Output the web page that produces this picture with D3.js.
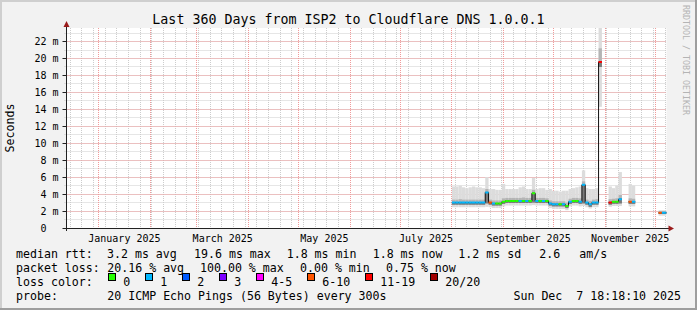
<!DOCTYPE html>
<html>
<head>
<meta charset="utf-8">
<script src="https://cdn.jsdelivr.net/npm/d3@7"></script>
<style>
  html, body { margin: 0; padding: 0; background: #f2f2f2; }
  svg { display: block; font-family: "DejaVu Sans Mono", monospace; }
  text { white-space: pre; }
</style>
</head>
<body>
<div id="chart"></div>
<script>
// ---- data ----
const title = 'Last 360 Days from ISP2 to Cloudflare DNS 1.0.0.1';
const endTime = new Date(Date.UTC(2025, 11, 7, 18, 18, 10));
const spanDays = 360;

// 2-day bins starting 2025-08-01, values in ms (null = no data)
const binStart = new Date(Date.UTC(2025, 7, 1));
const binDays = 2;
const median = [3.0, 3.0, 3.0, 3.0, 3.0, 3.0, 3.0, 3.0, 3.0, 3.0,
  4.2, 3.0, 2.9, 2.9, 2.9, 3.1, 3.2, 3.2, 3.2, 3.2,
  3.2, 3.2, 3.2, 3.2, 4.1, 3.2, 3.2, 3.2, 3.2, 2.9,
  2.8, 2.8, 2.8, 2.8, 2.6, 3.1, 3.2, 3.2, 3.1, 5.1,
  3.0, 2.8, 3.0, 3.0, 19.6, null, null, 3.0, 3.1, 3.1,
  3.4, null, null, 3.1, 3.1, null, null, null, null, null,
  null, null, 1.8, 1.8, 1.8];
const loss = [1, 1, 1, 1, 1, 1, 1, 1, 1, 1,
  1, 8, 1, 0, 0, 0, 0, 0, 0, 0,
  1, 0, 1, 0, 0, 1, 0, 1, 0, 1,
  1, 1, 0, 1, 0, 1, 0, 0, 1, 1,
  1, 1, 1, 1, 15, null, null, 15, 0, 0,
  1, null, null, 8, 1, null, null, null, null, null,
  null, null, 8, 1, 1];
const smokeLo = [2.45, 2.45, 2.45, 2.45, 2.45, 2.45, 2.45, 2.45, 2.45, 2.45,
  2.5, 2.45, 2.35, 2.35, 2.35, 2.55, 2.65, 2.65, 2.65, 2.65,
  2.65, 2.65, 2.65, 2.65, 2.7, 2.65, 2.65, 2.65, 2.65, 2.35,
  2.25, 2.25, 2.25, 2.25, 2.1, 2.55, 2.65, 2.65, 2.55, 2.6,
  2.45, 2.3, 2.45, 2.45, 14.3, null, null, 2.5, 2.6, 2.6,
  2.6, null, null, 2.55, 2.55, null, null, null, null, null,
  null, null, 1.45, 1.45, 1.45];
const smokeQ1 = [2.75, 2.75, 2.75, 2.75, 2.75, 2.75, 2.75, 2.75, 2.75, 2.75,
  2.9, 2.75, 2.65, 2.65, 2.65, 2.85, 2.95, 2.95, 2.95, 2.95,
  2.95, 2.95, 2.95, 2.95, 3.0, 2.95, 2.95, 2.95, 2.95, 2.65,
  2.55, 2.55, 2.55, 2.55, 2.35, 2.85, 2.95, 2.95, 2.85, 2.9,
  2.75, 2.5, 2.75, 2.75, 19.0, null, null, 2.75, 2.85, 2.85,
  2.9, null, null, 2.85, 2.85, null, null, null, null, null,
  null, null, 1.65, 1.65, 1.65];
const smokeQ3 = [3.35, 3.35, 3.4, 3.35, 3.35, 3.35, 3.35, 3.35, 3.35, 3.35,
  4.6, 3.35, 3.25, 3.25, 3.25, 3.5, 3.55, 3.55, 3.55, 3.55,
  3.55, 3.6, 3.55, 3.55, 4.5, 3.55, 3.55, 3.55, 3.5, 3.25,
  3.15, 3.15, 3.15, 3.15, 3.0, 3.45, 3.55, 3.55, 3.5, 5.5,
  3.35, 3.2, 3.35, 3.4, 21.2, null, null, 3.4, 3.45, 3.5,
  3.9, null, null, 3.5, 3.45, null, null, null, null, null,
  null, null, 2.0, 2.0, 2.0];
const smokeHi = [4.9, 4.9, 5.0, 4.8, 4.7, 4.8, 4.9, 4.8, 4.8, 4.7,
  6.0, 4.6, 4.6, 4.5, 4.5, 5.2, 4.6, 4.6, 4.6, 4.6,
  4.8, 4.9, 4.6, 4.6, 5.9, 4.6, 4.7, 4.7, 4.5, 4.6,
  4.4, 4.4, 4.3, 4.4, 4.4, 4.6, 4.7, 4.8, 4.9, 6.8,
  4.7, 4.6, 4.6, 4.7, 26.0, null, null, 4.9, 4.7, 5.0,
  6.6, null, null, 5.2, 5.0, null, null, null, null, null,
  null, null, 2.1, 2.1, 2.1];

const yMax = 23.6;
const yTicks = [0, 2, 4, 6, 8, 10, 12, 14, 16, 18, 20, 22];
const xTickMonths = [0, 2, 4, 6, 8, 10]; // month index in 2025
const xTickLabels = ['January 2025', 'March 2025', 'May 2025', 'July 2025', 'September 2025', 'November 2025'];

const lossLabels = ['0', '1', '2', '3', '4-5', '6-10', '11-19', '20/20'];
const lossUpper = [0, 1, 2, 3, 5, 10, 19, 20];
const lossColors = ['#26ff00', '#00b8ff', '#0059ff', '#7e00ff', '#ff00ff', '#ff5500', '#ff0000', '#a10000'];

const rttRow = [['median rtt:', 16], ['3.2 ms avg', 107], ['19.6 ms max', 194], ['1.8 ms min', 286.7],
  ['1.8 ms now', 372.7], ['1.2 ms sd', 458.3], ['2.6', 539.3], ['am/s', 579.3]];
const lossRow = [['packet loss:', 16], ['20.16 % avg', 107.3], ['100.00 % max', 200], ['0.00 % min', 300],
  ['0.75 % now', 386]];
const probeText = '20 ICMP Echo Pings (56 Bytes) every 300s';
const stampText = 'Sun Dec  7 18:18:10 2025';

// ---- layout ----
const W = 697, H = 310;
const pL = 66.5, pR = 666.5, pT = 28, pB = 228;
const startTime = new Date(+endTime - spanDays * 864e5);

const x = d3.scaleUtc().domain([startTime, endTime]).range([pL, pR]);
const y = d3.scaleLinear().domain([0, yMax]).range([pB, pT]);
const crisp = v => Math.floor(v) + 0.5;

const svg = d3.select('#chart').append('svg')
  .attr('width', W)
  .attr('height', H);

svg.append('rect').attr('width', W).attr('height', H).attr('fill', '#f2f2f2');
svg.append('rect').attr('x', 0).attr('y', 0).attr('width', W).attr('height', 2).attr('fill', '#cfcfcf');
svg.append('rect').attr('x', 0).attr('y', 0).attr('width', 2).attr('height', H).attr('fill', '#cfcfcf');
svg.append('rect').attr('x', 0).attr('y', H - 2).attr('width', W).attr('height', 2).attr('fill', '#9e9e9e');
svg.append('rect').attr('x', W - 2).attr('y', 0).attr('width', 2).attr('height', H).attr('fill', '#9e9e9e');

svg.append('rect')
  .attr('x', pL).attr('y', pT)
  .attr('width', pR - pL).attr('height', pB - pT)
  .attr('fill', '#fff');

// grid
const grid = svg.append('g').attr('stroke-dasharray', '1,1').attr('stroke-width', 1);
grid.selectAll('.hmin').data(d3.range(1, 24)).join('line')
  .attr('x1', pL - 2).attr('x2', pR)
  .attr('y1', d => crisp(y(d))).attr('y2', d => crisp(y(d)))
  .attr('stroke', '#cccccc');
grid.selectAll('.vmin').data(d3.utcSunday.range(startTime, endTime)).join('line')
  .attr('x1', d => crisp(x(d))).attr('x2', d => crisp(x(d)))
  .attr('y1', pT).attr('y2', pB + 2)
  .attr('stroke', '#cccccc');
grid.selectAll('.hmaj').data(yTicks.filter(d => d > 0)).join('line')
  .attr('x1', pL - 2).attr('x2', pR)
  .attr('y1', d => crisp(y(d))).attr('y2', d => crisp(y(d)))
  .attr('stroke', '#f09a9a');
grid.selectAll('.vmaj').data(d3.utcMonth.range(startTime, endTime)).join('line')
  .attr('x1', d => crisp(x(d))).attr('x2', d => crisp(x(d)))
  .attr('y1', pT).attr('y2', pB + 2)
  .attr('stroke', '#f09a9a');

// smoke + median
const bins = median.map((m, i) => ({
  i,
  t0: d3.utcDay.offset(binStart, i * binDays),
  t1: d3.utcDay.offset(binStart, (i + 1) * binDays),
  med: m, loss: loss[i],
  lo: smokeLo[i], q1: smokeQ1[i], q3: smokeQ3[i], hi: smokeHi[i]
})).filter(d => d.med != null);

svg.append('clipPath').attr('id', 'plotClip')
  .append('rect').attr('x', pL).attr('y', pT).attr('width', pR - pL).attr('height', pB - pT);

const plot = svg.append('g').attr('clip-path', 'url(#plotClip)');
const bx0 = d => x(d.t0);
const bw = d => Math.min(x(d.t1), pR) - x(d.t0);

plot.selectAll('.smoke').data(bins).join('rect')
  .attr('x', bx0).attr('width', bw)
  .attr('y', d => y(d.hi)).attr('height', d => y(d.lo) - y(d.hi))
  .attr('fill', '#dcdcdc');
plot.selectAll('.smokeMid').data(bins).join('rect')
  .attr('x', bx0).attr('width', bw)
  .attr('y', d => y(d.q3)).attr('height', d => y(d.q1) - y(d.q3))
  .attr('fill', '#b4b4b4');
plot.selectAll('.smokeDark').data(bins).join('rect')
  .attr('x', bx0).attr('width', bw)
  .attr('y', d => y(d.med)).attr('height', d => y(d.q1) - y(d.med))
  .attr('fill', '#7a7a7a');

// step outline of the median (black), broken at gaps
const steps = [];
median.forEach((m, i) => {
  const t0 = d3.utcDay.offset(binStart, i * binDays);
  const t1 = d3.utcDay.offset(binStart, (i + 1) * binDays);
  steps.push({ t: t0, v: m }, { t: t1, v: m });
});
plot.append('path')
  .datum(steps)
  .attr('fill', 'none')
  .attr('stroke', '#111')
  .attr('stroke-width', 1)
  .attr('d', d3.line().defined(d => d.v != null).x(d => x(d.t)).y(d => y(d.v)));

const lossIndex = n => lossUpper.findIndex(u => n <= u);
plot.selectAll('.med').data(bins).join('line')
  .attr('x1', bx0).attr('x2', d => bx0(d) + bw(d))
  .attr('y1', d => y(d.med)).attr('y2', d => y(d.med))
  .attr('stroke', d => lossColors[lossIndex(d.loss)])
  .attr('stroke-width', 2);

// axes
svg.append('line')
  .attr('x1', pL).attr('x2', pL).attr('y1', pB + 3).attr('y2', 25)
  .attr('stroke', '#222');
svg.append('line')
  .attr('x1', pL - 3).attr('x2', pR + 3).attr('y1', pB + 0.5).attr('y2', pB + 0.5)
  .attr('stroke', '#222');
svg.append('path').attr('d', `M${pL},21 L${pL - 3},27 L${pL + 3},27 Z`).attr('fill', '#9b1c1c');
svg.append('path').attr('d', `M${pR + 7.5},${pB + 0.5} L${pR + 2},${pB - 2.5} L${pR + 2},${pB + 3.5} Z`).attr('fill', '#9b1c1c');

svg.selectAll('.ytick').data(yTicks).join('line')
  .attr('x1', pL - 4).attr('x2', pL)
  .attr('y1', d => crisp(y(d))).attr('y2', d => crisp(y(d)))
  .attr('stroke', '#222');

svg.selectAll('.ylab').data(yTicks).join('text')
  .attr('x', 58.5)
  .attr('y', d => y(d))
  .attr('dy', '0.36em')
  .attr('text-anchor', 'end')
  .attr('font-size', '10px')
  .attr('fill', '#000')
  .text(d => d === 0 ? '0  ' : `${d} m`);

svg.selectAll('.xlab').data(xTickMonths).join('text')
  .attr('x', m => {
    const a = new Date(Date.UTC(2025, m, 1));
    const b = d3.utcMonth.offset(a, 1);
    return x(new Date((+a + +b) / 2));
  })
  .attr('y', 241.5)
  .attr('text-anchor', 'middle')
  .attr('font-size', '10px')
  .attr('fill', '#000')
  .text((m, i) => xTickLabels[i]);

// titles
svg.append('text')
  .attr('x', 348.5).attr('y', 23.5)
  .attr('text-anchor', 'middle')
  .attr('font-size', '13.3px')
  .attr('fill', '#000')
  .text(title);

svg.append('text')
  .attr('transform', 'translate(14,128) rotate(-90)')
  .attr('text-anchor', 'middle')
  .attr('font-size', '11.6px')
  .attr('fill', '#000')
  .text('Seconds');

svg.append('text')
  .attr('transform', 'translate(683,5) rotate(90)')
  .attr('font-size', '8.3px')
  .attr('fill', '#b4b4b4')
  .text('RRDTOOL / TOBI OETIKER');

// legend
const legend = svg.append('g').attr('font-size', '11.6px').attr('fill', '#000');
legend.selectAll('.r1').data(rttRow).join('text')
  .attr('x', d => d[1]).attr('y', 258).text(d => d[0]);
legend.selectAll('.r2').data(lossRow).join('text')
  .attr('x', d => d[1]).attr('y', 272).text(d => d[0]);
legend.append('text').attr('x', 16).attr('y', 286).text('loss color:');
legend.append('text').attr('x', 16).attr('y', 300).text('probe:');
legend.append('text').attr('x', 107.3).attr('y', 300).text(probeText);
legend.append('text').attr('x', 681).attr('y', 300).attr('text-anchor', 'end').text(stampText);

let bx = 108.3;
const boxX = lossLabels.map(l => { const v = bx; bx += 30 + 7 * l.length; return v; });
legend.selectAll('.lbox').data(lossLabels).join('rect')
  .attr('x', (d, i) => Math.round(boxX[i]) + 0.5).attr('y', 273.5)
  .attr('width', 7).attr('height', 7)
  .attr('fill', (d, i) => lossColors[i])
  .attr('stroke', '#000');
legend.selectAll('.ltxt').data(lossLabels).join('text')
  .attr('x', (d, i) => boxX[i] + 15).attr('y', 286)
  .text(d => d);
</script>
</body>
</html>
